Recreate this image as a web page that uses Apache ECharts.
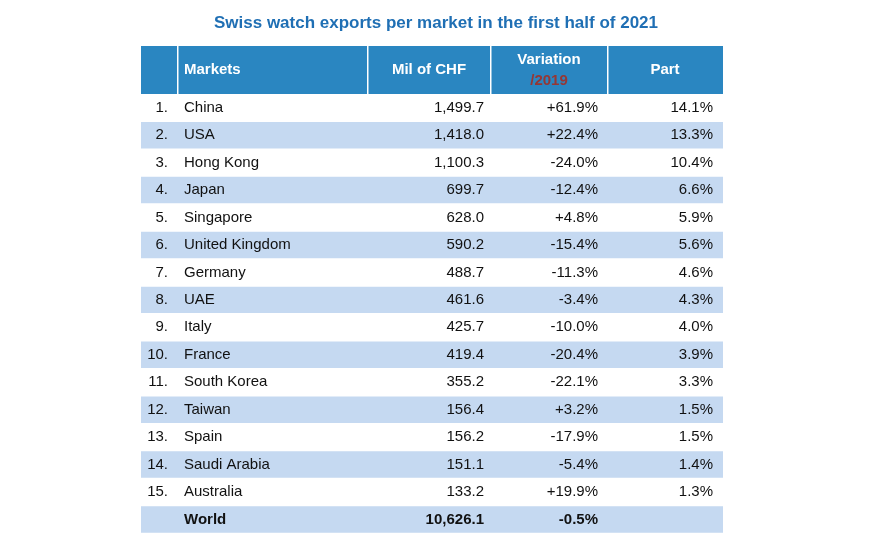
<!DOCTYPE html>
<html>
<head>
<meta charset="utf-8">
<script src="https://cdn.jsdelivr.net/npm/echarts@6/dist/echarts.min.js"></script>
<style>html,body{margin:0;padding:0;background:#fff}#chart{width:887px;height:538px}</style>
</head>
<body>
<div id="chart"></div>
<script>
// table data
var markets = ['China', 'USA', 'Hong Kong', 'Japan', 'Singapore', 'United Kingdom', 'Germany', 'UAE',
    'Italy', 'France', 'South Korea', 'Taiwan', 'Spain', 'Saudi Arabia', 'Australia']
var exports = ['1,499.7', '1,418.0', '1,100.3', '699.7', '628.0', '590.2', '488.7', '461.6',
    '425.7', '419.4', '355.2', '156.4', '156.2', '151.1', '133.2']
var variation = ['+61.9%', '+22.4%', '-24.0%', '-12.4%', '+4.8%', '-15.4%', '-11.3%', '-3.4%',
    '-10.0%', '-20.4%', '-22.1%', '+3.2%', '-17.9%', '-5.4%', '+19.9%']
var part = ['14.1%', '13.3%', '10.4%', '6.6%', '5.9%', '5.6%', '4.6%', '4.3%',
    '4.0%', '3.9%', '3.3%', '1.5%', '1.5%', '1.4%', '1.3%']
var world = ['World', '10,626.1', '-0.5%', '']

var chart = echarts.init(document.getElementById('chart'))

var left = 141, right = 723, headTop = 46, headH = 48, rowTop = 94, rowH = 27.45
var colX = [141, 178, 368, 491, 608, 723]
var font = '15px "Liberation Sans", Arial, sans-serif'
var bold = 'bold 15px "Liberation Sans", Arial, sans-serif'
var els = []

// header
els.push({type: 'rect', shape: {x: left, y: headTop, width: right - left, height: headH}, style: {fill: '#2a86c1'}})
for (var c = 1; c < 5; c++) {
    els.push({type: 'rect', shape: {x: colX[c] - 1, y: headTop, width: 1.5, height: headH}, style: {fill: '#fff'}})
}
var hy = headTop + headH / 2
els.push({type: 'text', style: {text: 'Markets', x: 184, y: hy, font: bold, fill: '#fff', verticalAlign: 'middle'}})
els.push({type: 'text', style: {text: 'Mil of CHF', x: 429, y: hy, font: bold, fill: '#fff', align: 'center', verticalAlign: 'middle'}})
els.push({type: 'text', style: {text: 'Variation', x: 549, y: hy - 10, font: bold, fill: '#fff', align: 'center', verticalAlign: 'middle'}})
els.push({type: 'text', style: {text: '/2019', x: 549, y: hy + 11, font: bold, fill: '#953735', align: 'center', verticalAlign: 'middle'}})
els.push({type: 'text', style: {text: 'Part', x: 665, y: hy, font: bold, fill: '#fff', align: 'center', verticalAlign: 'middle'}})

function row(i, cells, isBold, num) {
    var y = rowTop + i * rowH
    if (i % 2 === 1) {
        els.push({type: 'rect', shape: {x: left, y: y + 0.5, width: right - left, height: rowH - 1}, style: {fill: '#c5d9f1'}})
    }
    var cy = y + rowH / 2
    var f = isBold ? bold : font
    if (num) els.push({type: 'text', style: {text: num, x: 168, y: cy, font: font, fill: '#111', align: 'right', verticalAlign: 'middle'}})
    els.push({type: 'text', style: {text: cells[0], x: 184, y: cy, font: f, fill: '#111', verticalAlign: 'middle'}})
    els.push({type: 'text', style: {text: cells[1], x: 484, y: cy, font: f, fill: '#111', align: 'right', verticalAlign: 'middle'}})
    els.push({type: 'text', style: {text: cells[2], x: 598, y: cy, font: f, fill: '#111', align: 'right', verticalAlign: 'middle'}})
    els.push({type: 'text', style: {text: cells[3], x: 713, y: cy, font: f, fill: '#111', align: 'right', verticalAlign: 'middle'}})
}
markets.forEach(function (m, i) {
    row(i, [m, exports[i], variation[i], part[i]], false, (i + 1) + '.')
})
row(markets.length, world, true, '')

chart.setOption({
    title: {
        text: 'Swiss watch exports per market in the first half of 2021',
        left: 431, top: 10, textAlign: 'center',
        textStyle: {color: '#1f6fb4', fontSize: 17, fontWeight: 'bold', fontFamily: '"Liberation Sans", Arial, sans-serif'}
    },
    graphic: els
})
</script>
</body>
</html>
